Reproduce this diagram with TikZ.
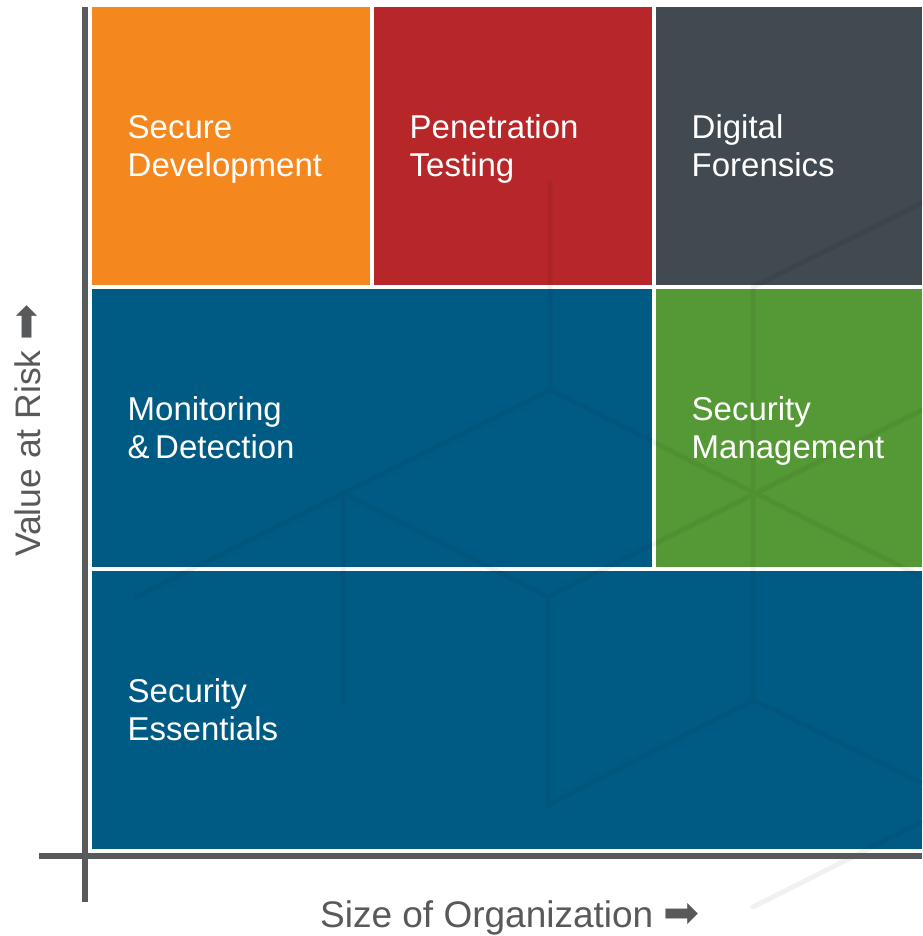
\documentclass[tikz,border=0pt]{standalone}
\usepackage{fontspec}
\setmainfont{Liberation Sans}
\newfontfamily\arrowfont{DejaVu Sans}
\definecolor{cOrange}{RGB}{245,135,31}
\definecolor{cRed}{RGB}{183,39,41}
\definecolor{cDark}{RGB}{65,73,81}
\definecolor{cBlue}{RGB}{0,91,132}
\definecolor{cGreen}{RGB}{85,153,54}
\definecolor{cAxis}{RGB}{88,89,91}
\newcommand{\bigarrow}{{\arrowfont\fontsize{43}{43}\selectfont ➡}}
\tikzset{
  cell/.style={anchor=north west, inner sep=0pt, outer sep=0pt, draw=none, rectangle},
  celltext/.style={anchor=base west, inner sep=0pt, align=left, text=white,
    font=\fontsize{33}{38.5}\selectfont},
  axisline/.style={draw=cAxis, line width=6pt},
  axislabel/.style={inner sep=0pt, text=cAxis},
  hexline/.style={line width=5pt, line cap=round, draw=black}
}
\begin{document}
\begin{tikzpicture}[x=1pt, y=-1pt]
\useasboundingbox (0,0) rectangle (922,936);
\fill[white] (0,0) rectangle (922,936);
% cells
\node[cell, fill=cOrange, minimum width=278pt, minimum height=278pt] (sd) at (92,7) {};
\node[cell, fill=cRed, minimum width=278pt, minimum height=278pt] (pt) at (374,7) {};
\node[cell, fill=cDark, minimum width=266pt, minimum height=278pt] (df) at (656,7) {};
\node[cell, fill=cBlue, minimum width=560pt, minimum height=278pt] (md) at (92,289) {};
\node[cell, fill=cGreen, minimum width=266pt, minimum height=278pt] (sm) at (656,289) {};
\node[cell, fill=cBlue, minimum width=830pt, minimum height=278pt] (se) at (92,571) {};
% faint isometric pattern
\begin{scope}[transparency group, opacity=0.055]
\coordinate (h1) at (550,183);
\coordinate (h2) at (550,390);
\coordinate (h3) at (343,493);
\coordinate (h4) at (135,597);
\coordinate (h5) at (548,597);
\coordinate (h6) at (343,703);
\coordinate (h7) at (548,805);
\coordinate (h8) at (922,577);
\coordinate (h9) at (922,410);
\coordinate (h10) at (753,287);
\coordinate (h11) at (922,203);
\coordinate (h12) at (753,700);
\coordinate (h13) at (922,783);
\coordinate (h14) at (753,907);
\coordinate (h15) at (922,822);
\draw[hexline] (h1) -- (h2) -- (h3) -- (h4);
\draw[hexline] (h2) -- (h8);
\draw[hexline] (h3) -- (h5) -- (h9);
\draw[hexline] (h3) -- (h6);
\draw[hexline] (h5) -- (h7) -- (h12) -- (h13);
\draw[hexline] (h11) -- (h10) -- (h12);
\draw[hexline] (h14) -- (h15);
\end{scope}
% axes
\coordinate (vtop) at (85,7);
\coordinate (vbot) at (85,902);
\coordinate (hleft) at (39,856);
\coordinate (hright) at (922,856);
\draw[axisline] (vtop) -- (vbot);
\draw[axisline] (hleft) -- (hright);
% cell labels (anchor = baseline of the last line)
\node[celltext] (tsd) at (127.5,176.8) {Secure\\Development};
\node[celltext] (tpt) at (409.5,176.8) {Penetration\\Testing};
\node[celltext] (tdf) at (691.5,176.8) {Digital\\Forensics};
\node[celltext] (tmd) at (127.5,458.8) {Monitoring\\\&\,Detection};
\node[celltext] (tsm) at (691.5,458.8) {Security\\Management};
\node[celltext] (tse) at (127.5,740.8) {Security\\Essentials};
% axis labels
\node[axislabel, anchor=base west, font=\fontsize{37}{40}\selectfont] (xlab) at (320,927.5) {Size of Organization \bigarrow};
\node[axislabel, anchor=base west, rotate=90, font=\fontsize{35.5}{40}\selectfont] (ylab) at (40,557) {Value at Risk \bigarrow};
\end{tikzpicture}
\end{document}
